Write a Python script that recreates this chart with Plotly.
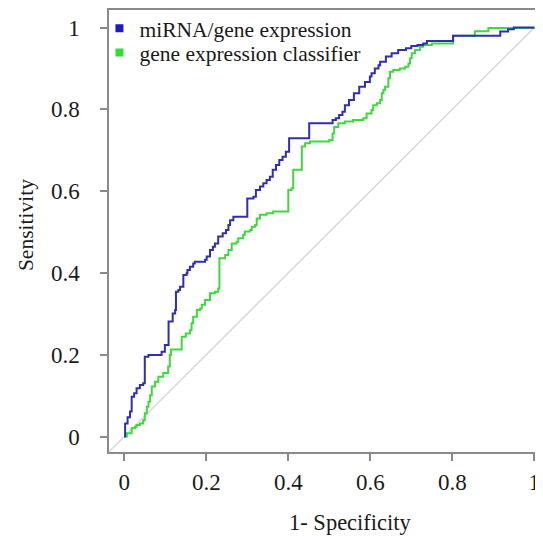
import plotly.graph_objects as go

# ROC curve for miRNA/gene expression classifier (step points: x where jump happens, new y)
mirna_fpr = [0.0, 0.002, 0.008, 0.014, 0.018, 0.024, 0.030, 0.038, 0.046, 0.050, 0.059, 0.091, 0.099,
             0.108, 0.118, 0.124, 0.126, 0.132, 0.136, 0.144, 0.152, 0.154, 0.160, 0.168, 0.172, 0.197,
             0.201, 0.209, 0.216, 0.221, 0.229, 0.240, 0.248, 0.254, 0.258, 0.266, 0.300, 0.315, 0.321,
             0.331, 0.339, 0.347, 0.355, 0.362, 0.370, 0.378, 0.386, 0.394, 0.402, 0.451, 0.508, 0.516,
             0.524, 0.532, 0.538, 0.548, 0.560, 0.573, 0.587, 0.599, 0.603, 0.611, 0.620, 0.624, 0.638,
             0.652, 0.668, 0.687, 0.700, 0.715, 0.729, 0.738, 0.802, 0.917, 0.936, 0.950, 1.0]
mirna_tpr = [0.0, 0.032, 0.047, 0.061, 0.097, 0.106, 0.118, 0.126, 0.130, 0.195, 0.199, 0.207, 0.224,
             0.281, 0.301, 0.309, 0.354, 0.358, 0.366, 0.395, 0.399, 0.407, 0.415, 0.423, 0.427, 0.432,
             0.440, 0.456, 0.464, 0.472, 0.489, 0.497, 0.505, 0.517, 0.529, 0.537, 0.582, 0.586, 0.603,
             0.611, 0.619, 0.627, 0.635, 0.652, 0.664, 0.676, 0.684, 0.696, 0.729, 0.766, 0.774, 0.778,
             0.786, 0.794, 0.810, 0.823, 0.839, 0.855, 0.867, 0.880, 0.888, 0.900, 0.908, 0.916, 0.929,
             0.937, 0.945, 0.949, 0.955, 0.957, 0.961, 0.967, 0.980, 0.990, 0.996, 1.0, 1.0]

# ROC curve for gene expression classifier
gene_fpr = [0.0, 0.006, 0.018, 0.026, 0.030, 0.038, 0.046, 0.050, 0.055, 0.059, 0.063, 0.067, 0.075,
            0.083, 0.095, 0.107, 0.111, 0.114, 0.140, 0.150, 0.160, 0.164, 0.168, 0.177, 0.185, 0.189,
            0.197, 0.209, 0.221, 0.229, 0.232, 0.246, 0.254, 0.262, 0.274, 0.278, 0.290, 0.294, 0.307,
            0.311, 0.319, 0.323, 0.331, 0.347, 0.363, 0.400, 0.408, 0.412, 0.433, 0.441, 0.453, 0.500,
            0.508, 0.512, 0.522, 0.538, 0.558, 0.583, 0.591, 0.603, 0.607, 0.616, 0.624, 0.628, 0.632,
            0.636, 0.644, 0.648, 0.656, 0.672, 0.685, 0.693, 0.697, 0.701, 0.709, 0.721, 0.729, 0.750,
            0.802, 0.855, 0.888, 1.0]
gene_tpr = [0.0, 0.008, 0.020, 0.024, 0.028, 0.032, 0.040, 0.057, 0.073, 0.085, 0.101, 0.122, 0.134,
            0.146, 0.155, 0.171, 0.199, 0.213, 0.244, 0.252, 0.260, 0.277, 0.293, 0.309, 0.313, 0.322,
            0.334, 0.350, 0.354, 0.362, 0.436, 0.444, 0.456, 0.472, 0.476, 0.485, 0.493, 0.501, 0.505,
            0.513, 0.517, 0.533, 0.542, 0.546, 0.550, 0.603, 0.607, 0.652, 0.709, 0.717, 0.721, 0.725,
            0.741, 0.757, 0.766, 0.770, 0.774, 0.778, 0.790, 0.798, 0.810, 0.815, 0.823, 0.839, 0.847,
            0.855, 0.876, 0.892, 0.896, 0.900, 0.904, 0.912, 0.925, 0.937, 0.945, 0.953, 0.957, 0.961,
            0.980, 0.991, 0.999, 1.0]

diag = [-0.05, 1.05]
series_names = ["miRNA/gene expression", "gene expression classifier"]
tick_vals = [0, 0.2, 0.4, 0.6, 0.8, 1]
tick_text = ["0", "0.2", "0.4", "0.6", "0.8", "1"]
x_title = "1- Specificity"
y_title = "Sensitivity"

BLUE = "#2f2fb0"
GREEN = "#3fd83f"
FONT = "Liberation Serif, 'Times New Roman', 'DejaVu Serif', serif"
TXT = "#1a1a1a"

fig = go.Figure()
fig.add_trace(go.Scatter(x=diag, y=diag, mode="lines", line=dict(color="#d9d9d9", width=1.5),
                         showlegend=False, hoverinfo="skip"))
fig.add_trace(go.Scatter(x=gene_fpr, y=gene_tpr, mode="lines", line=dict(color=GREEN, width=2, shape="hv"),
                         showlegend=False))
fig.add_trace(go.Scatter(x=mirna_fpr, y=mirna_tpr, mode="lines", line=dict(color=BLUE, width=2, shape="hv"),
                         showlegend=False))
# legend entries (square markers), each in its own legend for exact spacing
fig.add_trace(go.Scatter(x=[None], y=[None], mode="markers", name=series_names[0], legend="legend",
                         marker=dict(symbol="square", size=8, color="#1c1cc0")))
fig.add_trace(go.Scatter(x=[None], y=[None], mode="markers", name=series_names[1], legend="legend2",
                         marker=dict(symbol="square", size=8, color="#33dd33")))

axis_common = dict(
    showgrid=False, zeroline=False, showline=True, linecolor="#8a8a8a", linewidth=1.5,
    ticks="outside", ticklen=7, tickwidth=1.5, tickcolor="#8a8a8a",
    tickvals=tick_vals, ticktext=tick_text, automargin=False,
    tickfont=dict(family=FONT, size=23, color=TXT),
)

legend_common = dict(xanchor="left", yanchor="top", bgcolor="rgba(0,0,0,0)",
                     font=dict(family=FONT, size=21.5, color=TXT), itemwidth=30)

fig.update_layout(
    width=535, height=534,
    margin=dict(l=101, r=0, t=2, b=90, autoexpand=False),
    paper_bgcolor="white", plot_bgcolor="white",
    xaxis=dict(range=[-0.0373, 1.0212], mirror=True, ticklabelstandoff=2, **axis_common),
    yaxis=dict(range=[-0.0379, 1.0428], ticklabelstandoff=16, **axis_common),
    legend=dict(x=-0.022, y=1.005, **legend_common),
    legend2=dict(x=-0.022, y=0.9500, **legend_common),
    annotations=[
        dict(text=x_title, xref="paper", yref="paper", x=0.5576, y=-0.1584,
             xanchor="center", yanchor="middle", showarrow=False,
             font=dict(family=FONT, size=22.5, color=TXT)),
        dict(text=y_title, xref="paper", yref="paper", x=-0.191, y=0.5136, textangle=-90,
             xanchor="center", yanchor="middle", showarrow=False,
             font=dict(family=FONT, size=21.5, color=TXT)),
    ],
)

fig.write_html("out.html")
